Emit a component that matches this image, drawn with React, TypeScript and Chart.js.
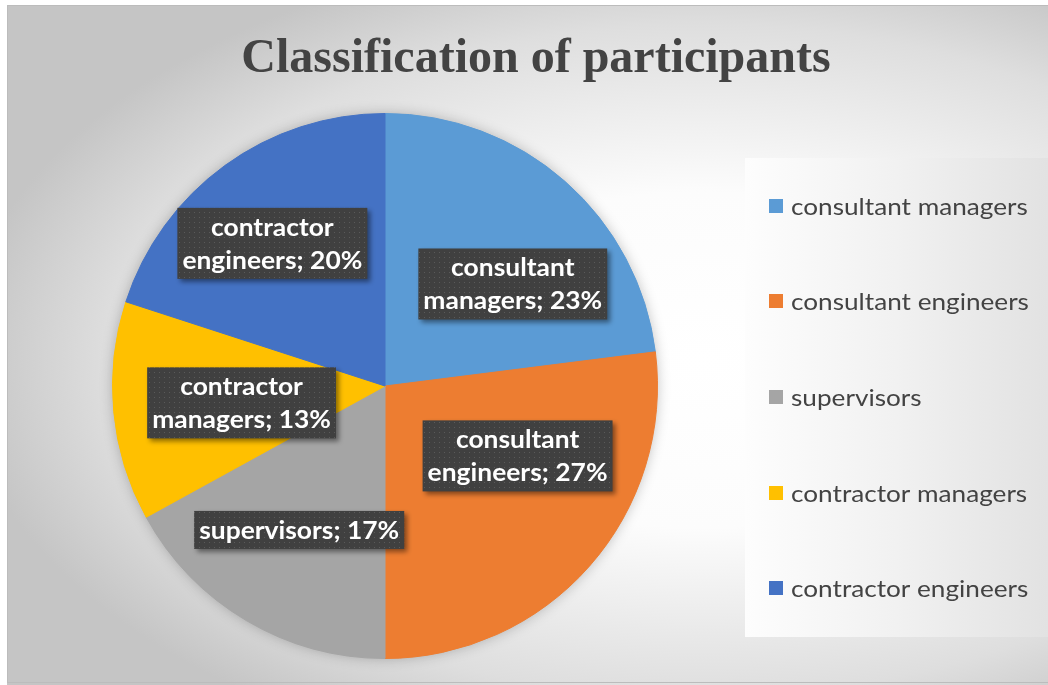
import React, { useEffect, useRef } from "react";
import { Chart, registerables } from "chart.js";

Chart.register(...registerables);

const chartTitle = "Classification of participants";
const categories = [
  "consultant managers",
  "consultant engineers",
  "supervisors",
  "contractor managers",
  "contractor engineers",
];
const values = [23, 27, 17, 13, 20];
const colors = ["#5B9BD5", "#ED7D31", "#A5A5A5", "#FFC000", "#4472C4"];
// label placement nudges: [angle shift in degrees, fraction of radius]
const labelNudge: [number, number][] = [
  [10, 0.6],
  [-13.6, 0.55],
  [0.2, 0.615],
  [-1.3, 0.53],
  [-2.3, 0.667],
];

const W = 1041;
const H = 680;
const TEXT_DARK = "#434343";

function makePattern(ctx: CanvasRenderingContext2D) {
  const c = document.createElement("canvas");
  c.width = 5;
  c.height = 5;
  const p = c.getContext("2d")!;
  p.fillStyle = "#404040";
  p.fillRect(0, 0, 5, 5);
  p.fillStyle = "#5a5a5a";
  p.fillRect(2, 2, 1, 1);
  return ctx.createPattern(c, "repeat")!;
}

function ellipseGradient(ctx: CanvasRenderingContext2D, cx: number, cy: number, rx: number, ry: number) {
  ctx.save();
  ctx.fillStyle = "#c5c5c5";
  ctx.fillRect(0, 0, W, H);
  ctx.translate(cx, cy);
  ctx.scale(1, ry / rx);
  const g = ctx.createRadialGradient(0, 0, 0, 0, 0, rx);
  g.addColorStop(0, "#ffffff");
  g.addColorStop(0.4, "#fcfcfc");
  g.addColorStop(0.8, "#dedede");
  g.addColorStop(1, "#c5c5c5");
  ctx.fillStyle = g;
  ctx.fillRect(-cx, -cy * (rx / ry), W, H * (rx / ry));
  ctx.restore();
}

function stretchedText(ctx: CanvasRenderingContext2D, text: string, x: number, y: number, sx: number) {
  ctx.save();
  ctx.translate(x, y);
  ctx.scale(sx, 1);
  ctx.fillText(text, 0, 0);
  ctx.restore();
}

const decorPlugin = {
  id: "decor",
  beforeDraw(chart: any) {
    const ctx: CanvasRenderingContext2D = chart.ctx;
    ctx.save();
    ellipseGradient(ctx, 693, 355, 740, 420);
    // frame
    ctx.strokeStyle = "#bcbcbc";
    ctx.lineWidth = 1;
    ctx.strokeRect(0.5, 0.5, W + 5, 677);
    // legend box
    const lg = ctx.createLinearGradient(738, 0, W, 0);
    lg.addColorStop(0, "#fdfdfd");
    lg.addColorStop(0.5, "#f1f1f1");
    lg.addColorStop(1, "#e2e2e2");
    ctx.fillStyle = lg;
    ctx.fillRect(738, 153, W - 738, 479);
    // title
    ctx.fillStyle = TEXT_DARK;
    ctx.font = 'bold 48px "Liberation Serif", "Times New Roman", serif';
    ctx.textAlign = "center";
    ctx.textBaseline = "alphabetic";
    ctx.fillText(chartTitle, 529, 67);
    // legend
    ctx.font = '24px Lato, "Open Sans", sans-serif';
    ctx.textAlign = "left";
    ctx.textBaseline = "middle";
    const ys = [201, 296, 392, 488, 583];
    categories.forEach((c, i) => {
      ctx.fillStyle = colors[i];
      ctx.fillRect(762, ys[i] - 7, 14, 14);
      ctx.fillStyle = TEXT_DARK;
      stretchedText(ctx, c, 784, ys[i] + 1, 1.09);
    });
    ctx.restore();
  },
  beforeDatasetsDraw(chart: any) {
    const ctx: CanvasRenderingContext2D = chart.ctx;
    const arc = chart.getDatasetMeta(0).data[0];
    if (!arc) return;
    const { x, y, outerRadius } = arc.getProps(["x", "y", "outerRadius"], true);
    ctx.save();
    ctx.shadowColor = "rgba(0,0,0,0.28)";
    ctx.shadowBlur = 14;
    ctx.fillStyle = "#999";
    ctx.beginPath();
    ctx.arc(x, y, outerRadius - 1, 0, Math.PI * 2);
    ctx.fill();
    ctx.restore();
  },
  afterDatasetsDraw(chart: any) {
    const ctx: CanvasRenderingContext2D = chart.ctx;
    const meta = chart.getDatasetMeta(0);
    const pattern = makePattern(ctx);
    const sx = 1.1;
    ctx.save();
    ctx.font = 'bold 24px Lato, "Open Sans", sans-serif';
    meta.data.forEach((arc: any, i: number) => {
      const { x, y, startAngle, endAngle, outerRadius } = arc.getProps(
        ["x", "y", "startAngle", "endAngle", "outerRadius"],
        true
      );
      const [shift, frac] = labelNudge[i];
      const mid = (startAngle + endAngle) / 2 + (shift * Math.PI) / 180;
      const cx = x + Math.cos(mid) * outerRadius * frac;
      const cy = y + Math.sin(mid) * outerRadius * frac;
      const cat = categories[i];
      const sp = cat.indexOf(" ");
      const lines =
        cat === "supervisors" || sp < 0
          ? [`${cat}; ${values[i]}%`]
          : [cat.slice(0, sp), `${cat.slice(sp + 1)}; ${values[i]}%`];
      const lh = 33;
      const tw = Math.max(...lines.map((l) => ctx.measureText(l).width)) * sx;
      const bw = tw + 10;
      const bh = lines.length * lh + 5;
      const bx = cx - bw / 2;
      const by = cy - bh / 2;
      ctx.save();
      ctx.shadowColor = "rgba(0,0,0,0.45)";
      ctx.shadowOffsetX = 3;
      ctx.shadowOffsetY = 3;
      ctx.shadowBlur = 5;
      ctx.fillStyle = pattern;
      ctx.fillRect(bx, by, bw, bh);
      ctx.restore();
      ctx.fillStyle = "#ffffff";
      ctx.textAlign = "center";
      ctx.textBaseline = "middle";
      lines.forEach((l, k) => {
        stretchedText(ctx, l, cx, by + 2.5 + lh * k + lh / 2 + 1, sx);
      });
    });
    ctx.restore();
  },
};

export default function App() {
  const ref = useRef<HTMLCanvasElement>(null);
  useEffect(() => {
    if (!ref.current) return;
    const chart = new Chart(ref.current, {
      type: "pie",
      data: {
        labels: categories,
        datasets: [
          {
            data: values,
            backgroundColor: colors,
            borderColor: colors,
            borderWidth: 1,
          },
        ],
      },
      options: {
        responsive: false,
        animation: false,
        layout: { padding: { left: 105, top: 108, right: 390, bottom: 26 } },
        plugins: {
          legend: { display: false },
          title: { display: false },
          tooltip: { enabled: false },
        },
      },
      plugins: [decorPlugin],
    });
    return () => chart.destroy();
  }, []);
  return (
    <div style={{ position: "absolute", left: 7, top: 5, width: W, height: H }}>
      <canvas ref={ref} width={W} height={H} style={{ width: W, height: H }} />
    </div>
  );
}
